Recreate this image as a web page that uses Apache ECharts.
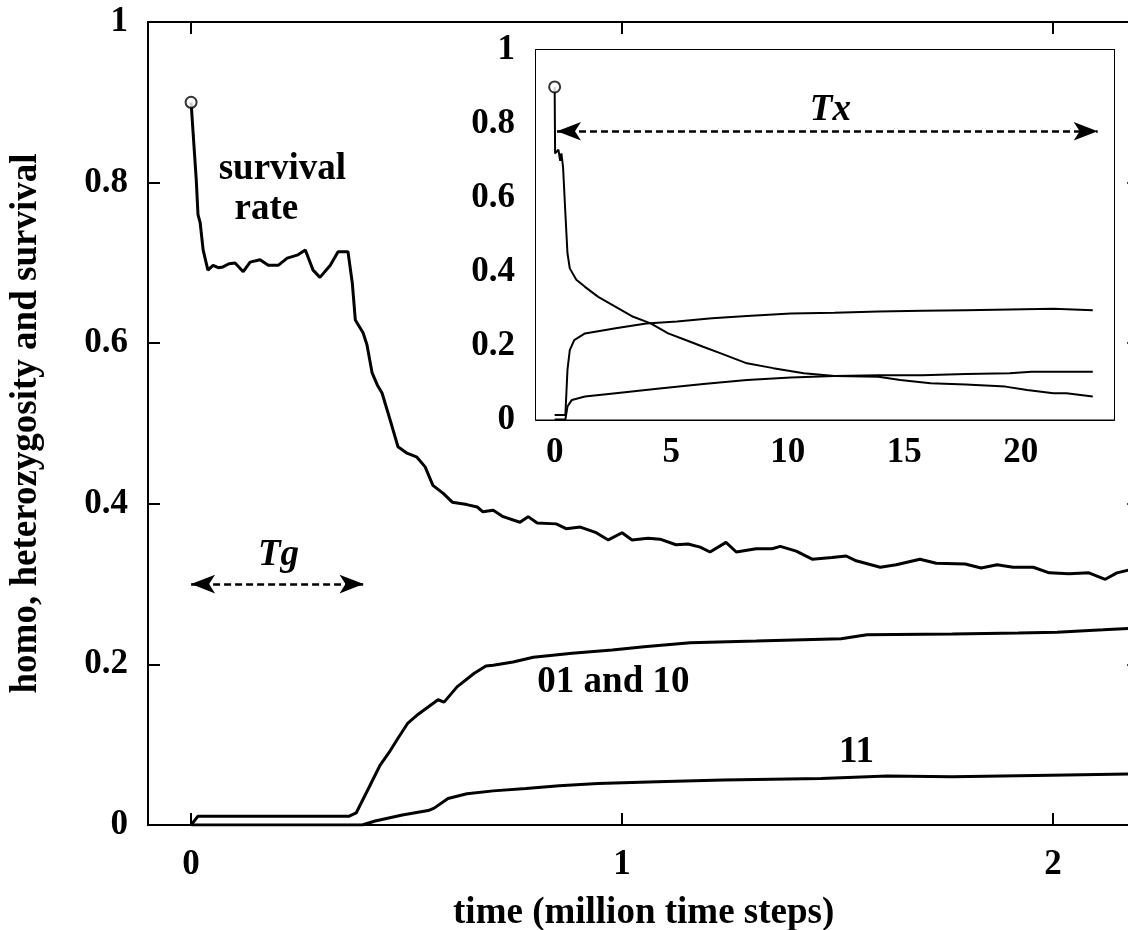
<!DOCTYPE html>
<html>
<head>
<meta charset="utf-8">
<script src="https://cdn.jsdelivr.net/npm/echarts@6.0.0/dist/echarts.min.js"></script>
<style>
html,body{margin:0;padding:0;background:#fff;}
#chart{width:1128px;height:930px;}
</style>
</head>
<body>
<div id="chart"></div>
<script>
// ---------- DATA ----------
// main plot: x in million time steps
const mainSurvival = [
 [0,0.900],[0.005,0.859],[0.012,0.803],[0.016,0.760],[0.021,0.750],[0.028,0.716],[0.039,0.691],
 [0.051,0.697],[0.063,0.694],[0.074,0.695],[0.088,0.699],[0.102,0.700],[0.121,0.689],[0.137,0.701],
 [0.160,0.704],[0.179,0.697],[0.202,0.697],[0.223,0.706],[0.248,0.710],[0.265,0.716],[0.283,0.691],
 [0.299,0.682],[0.323,0.697],[0.341,0.714],[0.364,0.714],[0.374,0.675],[0.381,0.629],[0.399,0.613],
 [0.408,0.598],[0.420,0.563],[0.432,0.548],[0.443,0.538],[0.462,0.504],[0.480,0.471],[0.501,0.463],
 [0.524,0.458],[0.543,0.446],[0.561,0.423],[0.585,0.413],[0.606,0.402],[0.640,0.399],[0.664,0.396],
 [0.677,0.390],[0.701,0.392],[0.724,0.384],[0.763,0.377],[0.782,0.384],[0.803,0.376],[0.847,0.375],
 [0.870,0.369],[0.903,0.371],[0.940,0.364],[0.968,0.355],[1.000,0.364],[1.023,0.355],[1.060,0.357],
 [1.088,0.356],[1.125,0.349],[1.153,0.350],[1.181,0.346],[1.204,0.340],[1.241,0.352],[1.265,0.340],
 [1.311,0.344],[1.348,0.344],[1.367,0.347],[1.404,0.341],[1.441,0.331],[1.487,0.333],[1.520,0.335],
 [1.543,0.329],[1.599,0.321],[1.636,0.324],[1.691,0.331],[1.729,0.326],[1.796,0.325],[1.833,0.320],
 [1.870,0.324],[1.907,0.321],[1.954,0.321],[1.991,0.314],[2.037,0.313],[2.083,0.314],[2.121,0.306],
 [2.148,0.314],[2.180,0.318]
];
const main0110 = [
 [0,0],[0.016,0.011],[0.367,0.011],[0.383,0.015],[0.413,0.047],[0.439,0.075],[0.459,0.090],
 [0.480,0.108],[0.503,0.127],[0.527,0.138],[0.550,0.147],[0.573,0.156],[0.587,0.153],[0.617,0.172],
 [0.657,0.189],[0.684,0.198],[0.701,0.199],[0.747,0.203],[0.794,0.209],[0.884,0.214],[0.977,0.218],
 [1.051,0.222],[1.158,0.227],[1.311,0.229],[1.508,0.232],[1.568,0.237],[1.766,0.238],[1.919,0.239],
 [2.009,0.240],[2.116,0.243],[2.180,0.245]
];
const main11 = [
 [0,0],[0.397,0],[0.427,0.005],[0.490,0.0125],[0.550,0.018],[0.564,0.021],[0.596,0.033],
 [0.640,0.039],[0.701,0.0425],[0.777,0.0455],[0.854,0.0488],[0.944,0.0518],[1.081,0.054],
 [1.234,0.056],[1.462,0.058],[1.615,0.061],[1.766,0.060],[1.995,0.062],[2.180,0.0635]
];
// inset plot
const insetSurvival = [
 [0,0.900],[0.02,0.720],[0.16,0.730],[0.24,0.700],[0.29,0.720],[0.36,0.684],[0.46,0.558],
 [0.55,0.450],[0.65,0.409],[0.93,0.378],[1.30,0.359],[1.87,0.332],[2.62,0.305],[3.37,0.278],
 [4.12,0.260],[4.87,0.233],[5.62,0.215],[6.37,0.197],[7.13,0.179],[8.25,0.152],[9.38,0.139],
 [10.69,0.125],[12.01,0.118],[13.89,0.116],[14.83,0.107],[16.13,0.098],[17.64,0.095],
 [19.34,0.089],[20.27,0.080],[21.40,0.071],[21.96,0.071],[23.09,0.062]
];
const inset0110 = [
 [0,0.012],[0.46,0.012],[0.55,0.134],[0.65,0.188],[0.84,0.215],[1.30,0.233],[2.62,0.247],
 [3.93,0.260],[5.25,0.265],[6.75,0.274],[8.25,0.280],[10.13,0.287],[12.01,0.289],[13.89,0.292],
 [15.77,0.294],[17.64,0.296],[19.52,0.298],[21.40,0.300],[23.09,0.296]
];
const inset11 = [
 [0,0],[0.46,0],[0.55,0.035],[0.74,0.053],[1.30,0.062],[2.62,0.071],[4.50,0.084],[6.38,0.096],
 [8.25,0.107],[10.13,0.114],[12.01,0.118],[13.89,0.120],[15.77,0.120],[17.64,0.123],
 [19.52,0.125],[20.46,0.129],[23.09,0.129]
];
// tick values
const mainXTicks = [0, 1, 2];
const insetXMajor = [0, 5, 10, 15, 20];
const insetXMinor = [0,1,2,3,4,5,6,7,8,9,10,11,12,13,14,15,16,17,18,19,20,21,22,23];
// annotations
const tgArrow = [[0, 0.3], [0.4, 0.3]];
const txArrow = [[0.1, 0.78], [23.3, 0.78]];
const mainNotes = [
 {name: 'survival', value: [0.213, 0.816]},
 {name: 'rate', value: [0.176, 0.766]},
 {name: '01 and 10', value: [0.981, 0.177]},
 {name: '11', value: [1.545, 0.090]}
];
const mainItalicNotes = [{name: 'Tg', value: [0.204, 0.335]}];
const insetItalicNotes = [{name: 'Tx', value: [11.85, 0.835]}];
const xTitle = 'time (million time steps)';
const yTitle = 'homo, heterozygosity and survival';

// ---------- LAYOUT / STYLE ----------
const W = 1128, H = 930;
const FONT = '"Liberation Serif","Times New Roman",serif';
const txt = {fontFamily: FONT, fontWeight: 'bold', fontSize: 35, color: '#000'};
const noteTxt = Object.assign({}, txt, {fontSize: 37});
const titleTxt = Object.assign({}, txt, {fontSize: 37});
const mainX = {min: -0.1, max: 2.2, pxPerUnit: 431};
const mainGrid = {left: 148, top: 22, bottom: H - 825};
mainGrid.right = W - mainGrid.left - (mainX.max - mainX.min) * mainX.pxPerUnit;
const insetGrid = {left: 536, top: 50, right: W - 1114, bottom: H - 419.5};
const insetX = {min: -0.8, max: 24};

const black = '#000';
function xAx(grid, pos, rng, ticks, len, labels, line, extra) {
  return Object.assign({
    type: 'value', gridIndex: grid, position: pos, min: rng.min, max: rng.max,
    axisLine: {show: line, onZero: false, lineStyle: {color: black, width: 2}},
    axisTick: {show: true, inside: true, length: len, customValues: ticks, lineStyle: {color: black, width: 2}},
    axisLabel: labels ? Object.assign({show: true, customValues: labels, margin: 22}, txt) : {show: false},
    splitLine: {show: false}
  }, extra || {});
}
function yAx(grid, pos, labels, margin, extra) {
  return Object.assign({
    type: 'value', gridIndex: grid, position: pos, min: 0, max: 1, interval: 0.2,
    axisLine: {show: true, onZero: false, lineStyle: {color: black, width: 2}},
    axisTick: {show: true, inside: true, length: 12, lineStyle: {color: black, width: 2}},
    axisLabel: labels ? Object.assign({show: true, margin: margin}, txt) : {show: false},
    splitLine: {show: false}
  }, extra || {});
}
function line(name, data, xi, yi, w) {
  return {type: 'line', name, data, xAxisIndex: xi, yAxisIndex: yi, symbol: 'none', showSymbol: false,
    lineStyle: {color: black, width: w}, z: 3, silent: true, animation: false};
}
function arrow(pts) {
  return {silent: true, animation: false, symbol: ['arrow', 'arrow'], symbolSize: [14, 24],
    label: {show: false}, emphasis: {disabled: true},
    lineStyle: {color: black, width: 2.5, type: [7, 4]},
    data: [[{coord: pts[0]}, {coord: pts[1]}]]};
}
function notes(data, xi, yi, italic) {
  return {type: 'scatter', data, xAxisIndex: xi, yAxisIndex: yi, symbolSize: 1,
    itemStyle: {color: 'rgba(0,0,0,0)'}, silent: true, animation: false, z: 6,
    label: Object.assign({show: true, position: [0, 0], align: 'center', verticalAlign: 'middle',
      formatter: '{b}', textBorderWidth: 0, opacity: 1}, noteTxt,
      italic ? {fontStyle: 'italic'} : {})};
}
function marker(pt, xi, yi) {
  return {type: 'scatter', data: [pt], xAxisIndex: xi, yAxisIndex: yi, symbol: 'circle', symbolSize: 11,
    itemStyle: {color: '#fff', borderColor: black, borderWidth: 2}, silent: true, animation: false, z: 7};
}

const mainSurvSeries = line('survival', mainSurvival, 0, 0, 3);
mainSurvSeries.markLine = arrow(tgArrow);
const insetSurvSeries = line('inset survival', insetSurvival, 2, 2, 2);
insetSurvSeries.markLine = arrow(txArrow);

const option = {
  backgroundColor: '#fff',
  animation: false,
  grid: [
    Object.assign({show: false, containLabel: false, outerBoundsMode: 'none'}, mainGrid),
    Object.assign({show: true, backgroundColor: '#fff', borderWidth: 0, containLabel: false,
      outerBoundsMode: 'none', z: 1}, insetGrid)
  ],
  xAxis: [
    xAx(0, 'bottom', mainX, mainXTicks, 12, mainXTicks, true,
      {name: xTitle, nameLocation: 'middle', nameGap: 70, nameTextStyle: titleTxt}),
    xAx(0, 'top', mainX, mainXTicks, 12, null, true),
    xAx(1, 'bottom', insetX, insetXMajor, 12, insetXMajor, true,
      {axisLabel: Object.assign({show: true, customValues: insetXMajor, margin: 16}, txt)}),
    xAx(1, 'bottom', insetX, insetXMinor, 6, null, false),
    xAx(1, 'top', insetX, insetXMajor, 12, null, true),
    xAx(1, 'top', insetX, insetXMinor, 6, null, false)
  ],
  yAxis: [
    yAx(0, 'left', true, 20, {name: yTitle, nameLocation: 'middle', nameGap: 103, nameTextStyle: titleTxt}),
    yAx(0, 'right', false),
    yAx(1, 'left', true, 21),
    yAx(1, 'right', false)
  ],
  series: [
    mainSurvSeries,
    line('01 and 10', main0110, 0, 0, 3),
    line('11', main11, 0, 0, 3),
    marker(mainSurvival[0], 0, 0),
    notes(mainNotes, 0, 0, false),
    notes(mainItalicNotes, 0, 0, true),
    insetSurvSeries,
    line('inset 01 and 10', inset0110, 2, 2, 2),
    line('inset 11', inset11, 2, 2, 2),
    marker(insetSurvival[0], 2, 2),
    notes(insetItalicNotes, 2, 2, true)
  ]
};
const chart = echarts.init(document.getElementById('chart'), null, {renderer: 'canvas', width: W, height: H});
chart.setOption(option);
</script>
</body>
</html>
